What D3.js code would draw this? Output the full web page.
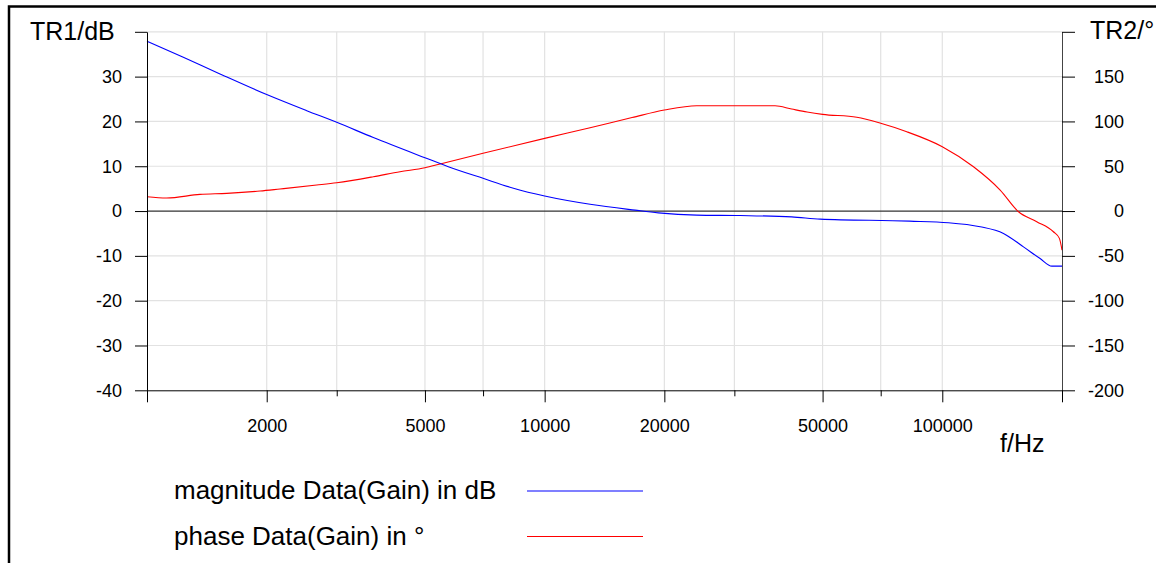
<!DOCTYPE html>
<html lang="en">
<head>
<meta charset="UTF-8">
<title>Gain - magnitude and phase</title>
<script src="https://cdn.jsdelivr.net/npm/d3@7"></script>
<style>
  body { margin: 0; background: #fff; }
  svg text { font-family: "Liberation Sans", Arial, sans-serif; fill: #000; }
</style>
</head>
<body>
<div id="chart"></div>
<script>
// TR1: magnitude of Gain (dB)
const magFreq = [1000, 1234, 1526, 2000, 2522, 3000, 3708, 5000, 5725, 7000, 8347, 10000, 13010, 16880, 19320, 24120, 31000, 41800, 49300, 82700, 103600, 124500, 142500, 160000, 176200, 188600, 200000];
const magDb   = [37.9, 34.3, 30.6, 26.0, 22.4, 19.8, 16.4, 11.9, 9.9, 7.3, 5.1, 3.35, 1.5, 0.2, -0.4, -0.9, -1.0, -1.3, -1.8, -2.25, -2.6, -3.5, -5.0, -8.0, -10.6, -12.3, -12.3];

// TR2: phase of Gain (degrees)
const phaseFreq = [1000, 1120, 1359, 1587, 1925, 2160, 2672, 3000, 3708, 4328, 5000, 5457, 7000, 10000, 13010, 16590, 20000, 24120, 37960, 41800, 45700, 50000, 60950, 70000, 81400, 100000, 119800, 139800, 155500, 172800, 190300, 197000, 200000];
const phaseDeg  = [16.0, 14.5, 18.6, 19.7, 22.3, 24.6, 29.0, 31.6, 38.3, 43.9, 48.3, 52.5, 64.4, 81.1, 93.0, 104.3, 112.7, 117.5, 117.5, 113.8, 110.5, 107.9, 104.6, 97.9, 88.5, 71.8, 49.4, 23.4, -0.8, -11.9, -23.1, -30.5, -43.5];

const dbTicks = [-40, -30, -20, -10, 0, 10, 20, 30, 40];
const degTicks = [-200, -150, -100, -50, 0, 50, 100, 150, 200];
const freqMajor = [1000, 2000, 5000, 10000, 20000, 50000, 100000, 200000];
const freqMinor = [3000, 7000, 30000, 70000];
const freqLabeled = [2000, 5000, 10000, 20000, 50000, 100000];
const freqGrid = [2000, 3000, 5000, 7000, 10000, 20000, 30000, 50000, 70000, 100000];
const seriesNames = ["magnitude Data(Gain) in dB", "phase Data(Gain) in °"];

const colors = { mag: "#0000ff", phase: "#ff0000" };
const font = '"Liberation Sans", Arial, sans-serif';

const width = 1156, height = 563;
const plot = { left: 147, right: 1062, top: 31.8, bottom: 390.3 };

const svg = d3.select("#chart").append("svg")
  .attr("width", width)
  .attr("height", height);

const x = d3.scaleLog().domain([1000, 200000]).range([plot.left, plot.right]);
const yDb = d3.scaleLinear().domain([-40, 40]).range([plot.bottom, plot.top]);
const yDeg = d3.scaleLinear().domain([-200, 200]).range([plot.bottom, plot.top]);

// outer frame (left + top edge only visible)
svg.append("path")
  .attr("d", `M9,${height} V6.5 H${width}`)
  .attr("fill", "none")
  .attr("stroke", "#000")
  .attr("stroke-width", 2.5);

// grid
const grid = svg.append("g").attr("stroke", "#e2e2e2").attr("stroke-width", 1.2);
grid.selectAll(".gy")
  .data(dbTicks.filter(d => d > -40 && d !== 0))
  .join("line").attr("class", "gy")
  .attr("x1", plot.left).attr("x2", plot.right)
  .attr("y1", d => yDb(d)).attr("y2", d => yDb(d));
grid.selectAll(".gx")
  .data(freqGrid)
  .join("line").attr("class", "gx")
  .attr("x1", d => x(d)).attr("x2", d => x(d))
  .attr("y1", plot.top).attr("y2", plot.bottom);

// zero line
svg.append("line")
  .attr("x1", plot.left).attr("x2", plot.right)
  .attr("y1", yDb(0)).attr("y2", yDb(0))
  .attr("stroke", "#333").attr("stroke-width", 1.3);

// traces
const magLine = d3.line().curve(d3.curveMonotoneX).x(d => x(d[0])).y(d => yDb(d[1]));
const phaseLine = d3.line().curve(d3.curveMonotoneX).x(d => x(d[0])).y(d => yDeg(d[1]));

svg.append("path")
  .datum(d3.zip(phaseFreq, phaseDeg))
  .attr("d", phaseLine)
  .attr("fill", "none")
  .attr("stroke", colors.phase)
  .attr("stroke-width", 1.1);

svg.append("path")
  .datum(d3.zip(magFreq, magDb))
  .attr("d", magLine)
  .attr("fill", "none")
  .attr("stroke", colors.mag)
  .attr("stroke-width", 1.1);

// left axis
svg.append("g")
  .attr("transform", `translate(${plot.left},0)`)
  .call(d3.axisLeft(yDb).tickValues(dbTicks).tickSize(12).tickSizeOuter(0).tickPadding(13)
    .tickFormat(d => d === 40 ? "" : d))
  .attr("font-size", 18).attr("font-family", font);

// right axis
const rightAxis = svg.append("g")
  .attr("transform", `translate(${plot.right},0)`)
  .call(d3.axisRight(yDeg).tickValues(degTicks).tickSize(13).tickSizeOuter(0)
    .tickFormat(d => d === 200 ? "" : d))
  .attr("font-size", 18).attr("font-family", font);
rightAxis.selectAll("text").attr("text-anchor", "end").attr("x", 62);
rightAxis.select(".domain").attr("stroke", "#444");

// bottom axis, major + minor ticks
svg.append("g")
  .attr("transform", `translate(0,${plot.bottom})`)
  .call(d3.axisBottom(x).tickValues(freqMajor).tickSize(12).tickSizeOuter(0).tickPadding(17)
    .tickFormat(d => freqLabeled.includes(d) ? d : ""))
  .attr("font-size", 18).attr("font-family", font);
svg.append("g")
  .attr("transform", `translate(0,${plot.bottom})`)
  .call(d3.axisBottom(x).tickValues(freqMinor).tickSize(6).tickFormat(""))
  .call(g => g.select(".domain").remove());

// axis titles
svg.append("text").attr("x", 30).attr("y", 40).attr("font-size", 25).text("TR1/dB");
svg.append("text").attr("x", 1090).attr("y", 39).attr("font-size", 25).text("TR2/°");
svg.append("text").attr("x", 1000).attr("y", 452).attr("font-size", 25).text("f/Hz");

// legend
const legendColors = [colors.mag, colors.phase];
const legend = svg.append("g");
legend.selectAll("text")
  .data(seriesNames)
  .join("text")
  .attr("x", 174)
  .attr("y", (d, i) => 499 + i * 46)
  .attr("font-size", 26)
  .text(d => d);
legend.selectAll("line")
  .data(seriesNames)
  .join("line")
  .attr("x1", 527).attr("x2", 643)
  .attr("y1", (d, i) => 491 + i * 45.5)
  .attr("y2", (d, i) => 491 + i * 45.5)
  .attr("stroke", (d, i) => legendColors[i])
  .attr("stroke-width", 1.1);
</script>
</body>
</html>
